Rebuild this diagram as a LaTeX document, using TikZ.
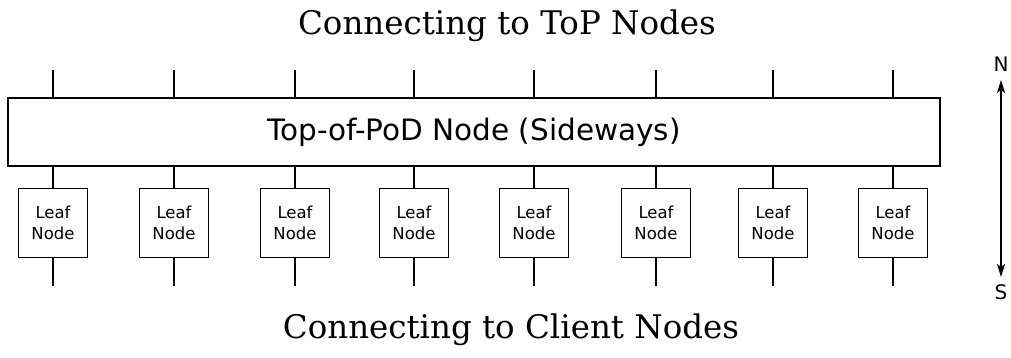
\documentclass[tikz,border=0pt]{standalone}
\usepackage{fontspec}
\usetikzlibrary{arrows.meta}
\setmainfont{DejaVu Sans}
\newfontfamily\titlefont{DejaVu Serif}
\tikzset{pod/.style  = {rectangle, line width=1.6pt, minimum width=932pt, minimum height=68pt, inner sep=0pt, draw},
         leaf/.style = {rectangle, line width=1.6pt, minimum size=69pt, inner sep=0pt, draw, align=center,
                        font=\fontsize{16.5}{20.5}\selectfont},
         ttl/.style  = {inner sep=0pt, font=\titlefont\fontsize{32.5}{38}\selectfont},
         dir/.style  = {inner sep=0pt, font=\fontsize{20}{22}\selectfont},
         wire/.style = {line width=1.6pt}}

\begin{document}
\begin{tikzpicture}[x=1pt, y=-1pt, >={Stealth[length=13pt, width=8pt, inset=3pt]}]
    \useasboundingbox (0,0) rectangle (1011,358);
    \node[ttl] (top) at (507,26) {Connecting to ToP Nodes};
    \node[ttl] (bot) at (511,330) {Connecting to Client Nodes};
    \node[pod, font=\fontsize{29.5}{34}\selectfont] (pod) at (474,132) {Top-of-PoD Node (Sideways)};
    \node[leaf] (la) at (53,223)  {Leaf\\Node}; \node[leaf] (lb) at (174,223) {Leaf\\Node};
    \node[leaf] (lc) at (295,223) {Leaf\\Node}; \node[leaf] (ld) at (414,223) {Leaf\\Node};
    \node[leaf] (le) at (534,223) {Leaf\\Node}; \node[leaf] (lf) at (656,223) {Leaf\\Node};
    \node[leaf] (lg) at (773,223) {Leaf\\Node}; \node[leaf] (lh) at (893,223) {Leaf\\Node};
    % uplinks to ToP
    \coordinate (ua) at (53,70);  \coordinate (ub) at (174,70);
    \coordinate (uc) at (295,70); \coordinate (ud) at (414,70);
    \coordinate (ue) at (534,70); \coordinate (uf) at (656,70);
    \coordinate (ug) at (773,70); \coordinate (uh) at (893,70);
    \draw[wire] (ua) -- (ua |- pod.north); \draw[wire] (ub) -- (ub |- pod.north);
    \draw[wire] (uc) -- (uc |- pod.north); \draw[wire] (ud) -- (ud |- pod.north);
    \draw[wire] (ue) -- (ue |- pod.north); \draw[wire] (uf) -- (uf |- pod.north);
    \draw[wire] (ug) -- (ug |- pod.north); \draw[wire] (uh) -- (uh |- pod.north);
    % leaf to ToP
    \draw[wire] (la.north) -- (la.north |- pod.south); \draw[wire] (lb.north) -- (lb.north |- pod.south);
    \draw[wire] (lc.north) -- (lc.north |- pod.south); \draw[wire] (ld.north) -- (ld.north |- pod.south);
    \draw[wire] (le.north) -- (le.north |- pod.south); \draw[wire] (lf.north) -- (lf.north |- pod.south);
    \draw[wire] (lg.north) -- (lg.north |- pod.south); \draw[wire] (lh.north) -- (lh.north |- pod.south);
    % downlinks to clients
    \coordinate (da) at (53,286);  \coordinate (db) at (174,286);
    \coordinate (dc) at (295,286); \coordinate (dd) at (414,286);
    \coordinate (de) at (534,286); \coordinate (df) at (656,286);
    \coordinate (dg) at (773,286); \coordinate (dh) at (893,286);
    \draw[wire] (la.south) -- (da); \draw[wire] (lb.south) -- (db);
    \draw[wire] (lc.south) -- (dc); \draw[wire] (ld.south) -- (dd);
    \draw[wire] (le.south) -- (de); \draw[wire] (lf.south) -- (df);
    \draw[wire] (lg.south) -- (dg); \draw[wire] (lh.south) -- (dh);
    % compass
    \node[dir] (n) at (1001,64) {N};
    \node[dir] (s) at (1001,292) {S};
    \coordinate (na) at (1001,80); \coordinate (sa) at (1001,277);
    \draw[<->, wire] (na) -- (sa);
\end{tikzpicture}
\end{document}
